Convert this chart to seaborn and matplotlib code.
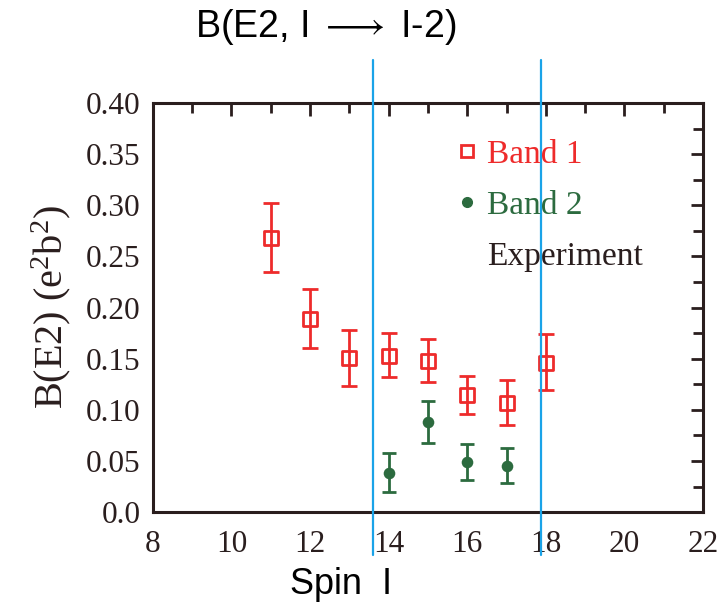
import numpy as np
import pandas as pd
import matplotlib
matplotlib.use("Agg")
import matplotlib.pyplot as plt
import seaborn as sns
from matplotlib.lines import Line2D

# ---- data ----
spin_band1 = [11, 12, 13, 14, 15, 16, 17, 18]
be2_band1 = [0.268, 0.189, 0.151, 0.153, 0.148, 0.114, 0.107, 0.146]
err1_low = [0.033, 0.029, 0.028, 0.021, 0.021, 0.018, 0.022, 0.027]
err1_high = [0.034, 0.029, 0.027, 0.022, 0.021, 0.019, 0.022, 0.028]

spin_band2 = [14, 15, 16, 17]
be2_band2 = [0.038, 0.088, 0.049, 0.045]
err2_low = [0.018, 0.020, 0.018, 0.017]
err2_high = [0.020, 0.021, 0.018, 0.018]

vlines_x = [13.6, 17.87]
xticks = [8, 10, 12, 14, 16, 18, 20, 22]
yticks = [0.0, 0.05, 0.10, 0.15, 0.20, 0.25, 0.30, 0.35, 0.40]
ytick_labels = ["0.0", "0.05", "0.10", "0.15", "0.20", "0.25", "0.30", "0.35", "0.40"]

RED = "#ee2b2b"
GREEN = "#2c6b3f"
DARK = "#2a1e1e"
BLUE = "#1aa3e8"

sns.set_theme(style="white")
plt.rcParams["font.family"] = ["Liberation Serif", "DejaVu Serif"]
plt.rcParams["mathtext.fontset"] = "custom"
plt.rcParams["mathtext.rm"] = "Liberation Serif"
plt.rcParams["mathtext.it"] = "Liberation Serif:italic"

fig = plt.figure(figsize=(7.21, 6.06), dpi=100)
ax = fig.add_axes([0.212, 0.155, 0.763, 0.675])

df1 = pd.DataFrame({"spin": spin_band1, "be2": be2_band1})
df2 = pd.DataFrame({"spin": spin_band2, "be2": be2_band2})

sns.scatterplot(data=df1, x="spin", y="be2", ax=ax, marker="s", s=110,
                facecolor="white", edgecolor=RED, linewidth=2, zorder=2)
ax.errorbar(spin_band1, be2_band1, yerr=[err1_low, err1_high], fmt="none",
            ecolor=RED, elinewidth=2, capsize=6, capthick=2, zorder=3)
ax.errorbar(spin_band2, be2_band2, yerr=[err2_low, err2_high], fmt="none",
            ecolor=GREEN, elinewidth=2, capsize=5, capthick=2, zorder=2)
sns.scatterplot(data=df2, x="spin", y="be2", ax=ax, marker="o", s=70,
                color=GREEN, edgecolor=GREEN, linewidth=0, zorder=3)

ax.set_xlim(8, 22)
ax.set_ylim(0, 0.40)
ax.set_xticks(xticks)
ax.set_xticks(np.arange(8, 23, 1), minor=True)
ax.set_yticks(yticks)
ax.set_yticklabels(ytick_labels)
ax.set_yticks(np.arange(0, 0.401, 0.025), minor=True)
ax.tick_params(which="both", direction="in", top=True, right=True,
               colors=DARK, labelsize=22.5, width=2)
ax.tick_params(which="major", length=9)
ax.tick_params(which="minor", length=7)
ax.tick_params(axis="x", pad=13)
ax.tick_params(axis="y", pad=9)
for sp in ax.spines.values():
    sp.set_color(DARK)
    sp.set_linewidth(2.2)

ax.set_xlabel("")
ax.set_ylabel(r"$\mathregular{B(E2)\ (e^2b^2)}$", fontsize=29, color=DARK, labelpad=9)

handles = [
    Line2D([], [], marker="s", linestyle="none", markersize=8, markerfacecolor="white",
           markeredgecolor=RED, markeredgewidth=2),
    Line2D([], [], marker="o", linestyle="none", markersize=7, color=GREEN),
    Line2D([], [], linestyle="none"),
]
leg = ax.legend(handles, ["Band 1", "Band 2", "Experiment"], loc="upper left",
                bbox_to_anchor=(0.493, 0.985), frameon=False, fontsize=24,
                handlelength=0.8, handletextpad=0.2, labelspacing=0.62,
                labelcolor=[RED, GREEN, DARK])

for xv in vlines_x:
    ax.axvline(xv, ymin=-0.105, ymax=1.105, color=BLUE, linewidth=1.6,
               clip_on=False, zorder=5)

fig.text(0.452, 0.955, r"B(E2, I $\longrightarrow$ I-2)", fontsize=27,
         family=["Liberation Sans", "DejaVu Sans"],
         ha="center", va="center", color="black")
fig.text(0.473, 0.036, "Spin  I", fontsize=26, family=["Liberation Sans", "DejaVu Sans"],
         ha="center", va="center", color="black")

fig.savefig("out.png", dpi=100, facecolor="white")
